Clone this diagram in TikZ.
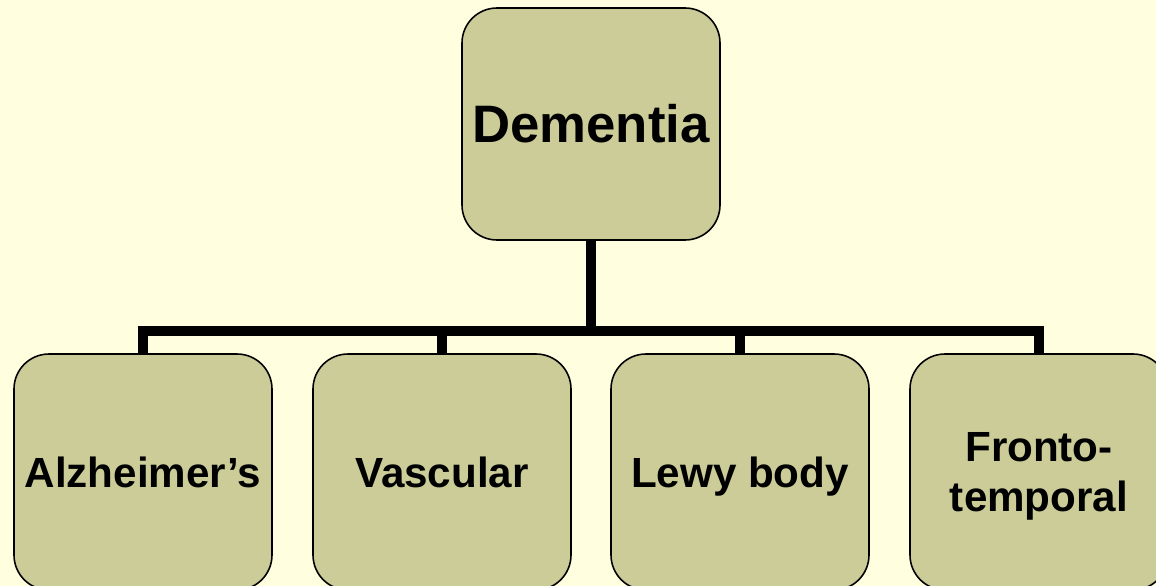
\documentclass[tikz,border=0pt]{standalone}
\usepackage{fontspec}
\setsansfont{Liberation Sans}
\usepackage{tikz}
\usetikzlibrary{positioning}
\definecolor{DemBack}{HTML}{FFFFE0}
\definecolor{DemOlive}{HTML}{CCCC99}
\definecolor{DemInk}{HTML}{000000}
\tikzset{
  diagbox/.style={draw=DemInk, line width=0.9pt, rounded corners=0.7cm, fill=DemOlive,
    minimum width=5.16cm, inner sep=0pt, align=center, text=DemInk},
  rootbox/.style={diagbox, minimum height=4.64cm, font=\sffamily\bfseries\fontsize{30}{36}\selectfont},
  typebox/.style={diagbox, minimum height=4.72cm, text depth=0pt, font=\sffamily\bfseries\fontsize{24}{28.5}\selectfont},
  treeline/.style={draw=DemInk, line width=0.2cm, line join=miter}
}
\begin{document}
\begin{tikzpicture}
\clip (0,0) rectangle (23.12,-11.72);
\fill[DemBack] (0,0) rectangle (23.12,-11.72);
% root and branch point
\node[rootbox] (dem) at (11.82,-2.48) {Dementia};
\coordinate (hub) at (11.82,-6.62);
% the four types
\node[typebox] (alz) at (2.86,-9.44) {Alzheimer’s};
\node[typebox] (vasc) at (8.84,-9.44) {Vascular};
\node[typebox] (lewy) at (14.80,-9.44) {Lewy body};
\node[typebox] (ftd) at (20.78,-9.44) {Fronto-\\temporal};
% connectors
\draw[treeline] (dem.south) -- (hub);
\foreach \kind in {alz,vasc,lewy,ftd}
  \draw[treeline] (hub) -| (\kind.north);
\end{tikzpicture}
\end{document}
